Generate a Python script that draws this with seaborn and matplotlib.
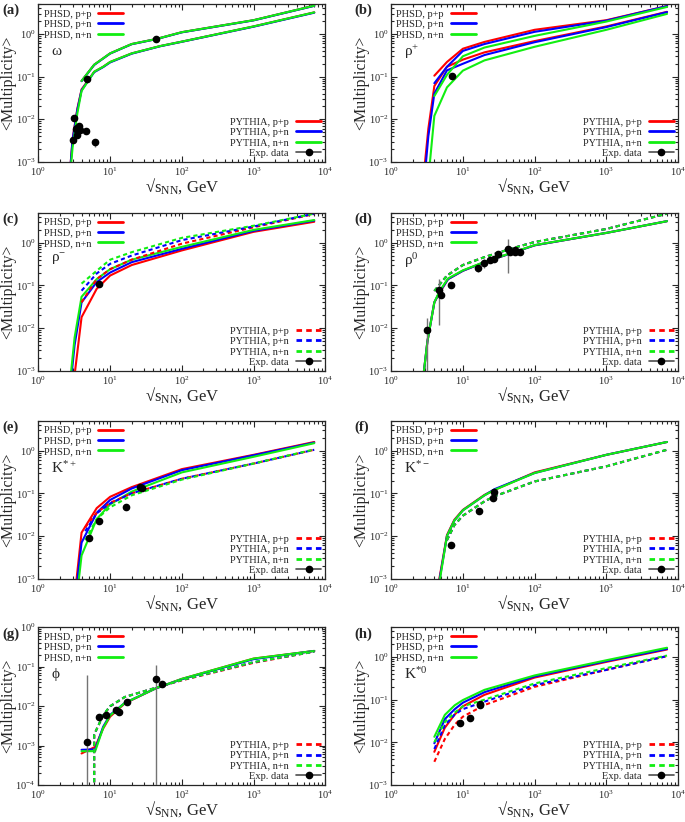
import numpy as np
import seaborn as sns
import matplotlib.pyplot as plt
from matplotlib.lines import Line2D
from matplotlib.ticker import LogLocator, NullFormatter

sns.set_style('ticks')
plt.rcParams['font.family'] = ['Liberation Serif', 'DejaVu Serif']
plt.rcParams['mathtext.fontset'] = 'custom'
plt.rcParams['mathtext.rm'] = 'Liberation Serif'
plt.rcParams['mathtext.it'] = 'Liberation Serif:italic'
plt.rcParams['mathtext.bf'] = 'Liberation Serif:bold'

RED, BLUE, GREEN = '#ff0000', '#0000ff', '#11ee11'

# ---- (a) omega ----
omega_phsd_x = [2.8, 3.0, 3.5, 4, 6, 8, 10, 20, 50, 100, 1000, 7000]
omega_phsd_pp = [0.0008, 0.0035, 0.018, 0.05, 0.13, 0.17, 0.22, 0.35, 0.52, 0.66, 1.5, 3.2]
omega_phsd_pn = [0.0008, 0.0033, 0.017, 0.048, 0.127, 0.167, 0.215, 0.345, 0.515, 0.655, 1.48, 3.15]
omega_phsd_nn = [0.0006, 0.0022, 0.014, 0.046, 0.13, 0.17, 0.22, 0.35, 0.52, 0.66, 1.5, 3.2]
omega_py_x = [4, 6, 10, 20, 44, 100, 1000, 7000]
omega_py_pp = [0.079, 0.19, 0.35, 0.58, 0.76, 1.1, 2.1, 4.6]
omega_py_pn = [0.078, 0.188, 0.347, 0.575, 0.755, 1.09, 2.08, 4.55]
omega_py_nn = [0.079, 0.19, 0.35, 0.58, 0.76, 1.1, 2.1, 4.6]
omega_exp_x = [3.08, 3.14, 3.35, 3.43, 3.5, 3.6, 3.73, 3.8, 4.57, 6.2, 4.7, 43.4]
omega_exp_y = [0.0032, 0.011, 0.0058, 0.0063, 0.0043, 0.0060, 0.0068, 0.0055, 0.0053, 0.0029, 0.088, 0.75]
omega_exp_err = [0.0003, 0.001, 0.0006, 0.0006, 0.0004, 0.0006, 0.0007, 0.0005, 0.0008, 0.0006, 0.008, 0.05]

# ---- (b) rho+ ----
rhop_phsd_x = [2.95, 3.3, 4, 6, 10, 20, 100, 1000, 7000]
rhop_phsd_pp = [0.0009, 0.006, 0.06, 0.17, 0.25, 0.37, 0.68, 1.5, 3.3]
rhop_phsd_pn = [0.0005, 0.004, 0.04, 0.14, 0.2, 0.32, 0.64, 1.45, 3.25]
rhop_phsd_nn = [0.0001, 0.0004, 0.012, 0.056, 0.138, 0.24, 0.5, 1.25, 2.95]
rhop_py_x = [4, 6, 10, 20, 100, 1000, 7000]
rhop_py_pp = [0.105, 0.22, 0.45, 0.65, 1.25, 2.1, 4.5]
rhop_py_pn = [0.07, 0.17, 0.4, 0.58, 1.12, 2.05, 4.5]
rhop_py_nn = [0.035, 0.11, 0.3, 0.48, 0.9, 1.95, 4.3]
rhop_exp_x = [7.0]
rhop_exp_y = [0.104]
rhop_exp_err = [0.015]

# ---- (c) rho- ----
rhom_phsd_x = [2.85, 3.2, 4, 6.5, 10, 20, 100, 1000, 7000]
rhom_phsd_pp = [0.0001, 0.0008, 0.018, 0.083, 0.17, 0.3, 0.66, 1.8, 3.1]
rhom_phsd_pn = [0.0006, 0.004, 0.04, 0.12, 0.2, 0.35, 0.72, 1.9, 3.3]
rhom_phsd_nn = [0.0009, 0.006, 0.054, 0.14, 0.24, 0.4, 0.8, 2.0, 3.4]
rhom_py_x = [4, 6.5, 10, 20, 100, 1000, 7000]
rhom_py_pp = [0.04, 0.14, 0.24, 0.4, 0.95, 2.3, 4.7]
rhom_py_pn = [0.075, 0.19, 0.32, 0.5, 1.15, 2.4, 4.8]
rhom_py_nn = [0.11, 0.22, 0.4, 0.6, 1.3, 2.5, 4.8]
rhom_exp_x = [6.9]
rhom_exp_y = [0.11]
rhom_exp_err = [0.02]

# ---- (d) rho0 ----
rho0_phsd_x = [2.8, 3.2, 4, 4.7, 6.2, 10, 20, 100, 1000, 7000]
rho0_phsd_pp = [0.0007, 0.0048, 0.04, 0.065, 0.14, 0.22, 0.35, 0.87, 1.7, 3.2]
rho0_phsd_pn = [0.0007, 0.0048, 0.04, 0.068, 0.14, 0.22, 0.35, 0.87, 1.7, 3.2]
rho0_phsd_nn = [0.0007, 0.0048, 0.04, 0.072, 0.145, 0.225, 0.355, 0.88, 1.7, 3.2]
rho0_py_x = [4, 6, 10, 20, 50, 100, 1000, 7000]
rho0_py_pp = [0.074, 0.17, 0.3, 0.46, 0.75, 1.04, 2.1, 4.8]
rho0_py_pn = [0.074, 0.17, 0.3, 0.46, 0.75, 1.04, 2.1, 4.8]
rho0_py_nn = [0.074, 0.17, 0.3, 0.46, 0.75, 1.04, 2.1, 4.8]
rho0_exp_x = [3.18, 4.7, 5.0, 6.9, 16.5, 19.6, 23.8, 27.5, 30.7, 43, 45, 52.8, 53.5, 63]
rho0_exp_y = [0.009, 0.077, 0.06, 0.1, 0.25, 0.34, 0.39, 0.41, 0.55, 0.72, 0.6, 0.69, 0.6, 0.59]
rho0_exp_err = [0.008, 0.065, 0.006, 0.01, 0.04, 0.08, 0.03, 0.05, 0.04, 0.53, 0.05, 0.06, 0.05, 0.04]

# ---- (e) K*+ ----
kp_phsd_x = [3.3, 4, 6.5, 10, 20, 100, 1000, 7000]
kp_phsd_pp = [0.0006, 0.012, 0.045, 0.083, 0.14, 0.37, 0.8, 1.6]
kp_phsd_pn = [0.0004, 0.007, 0.035, 0.07, 0.13, 0.35, 0.78, 1.55]
kp_phsd_nn = [0.0002, 0.0035, 0.025, 0.055, 0.11, 0.31, 0.72, 1.5]
kp_py_x = [4.5, 6.5, 10, 20, 100, 1000, 7000]
kp_py_pp = [0.016, 0.035, 0.06, 0.1, 0.22, 0.5, 1.05]
kp_py_pn = [0.013, 0.034, 0.058, 0.1, 0.22, 0.5, 1.05]
kp_py_nn = [0.008, 0.025, 0.047, 0.09, 0.21, 0.5, 1.07]
kp_exp_x = [5.0, 6.9, 16.7, 26, 27.6]
kp_exp_y = [0.009, 0.022, 0.047, 0.14, 0.13]
kp_exp_err = [0.001, 0.002, 0.006, 0.015, 0.015]

# ---- (f) K*- ----
km_phsd_x = [4.7, 6.0, 7.6, 10, 20, 27.5, 100, 1000, 7000]
km_phsd_pp = [0.001, 0.0105, 0.024, 0.041, 0.092, 0.12, 0.31, 0.8, 1.6]
km_phsd_pn = [0.0009, 0.01, 0.023, 0.04, 0.09, 0.125, 0.3, 0.8, 1.6]
km_phsd_nn = [0.0008, 0.01, 0.023, 0.04, 0.09, 0.12, 0.3, 0.8, 1.6]
km_py_x = [6.0, 7.6, 10, 20, 27.5, 100, 1000, 7000]
km_py_pp = [0.008, 0.018, 0.03, 0.065, 0.085, 0.19, 0.43, 1.05]
km_py_pn = [0.008, 0.018, 0.03, 0.065, 0.085, 0.19, 0.43, 1.05]
km_py_nn = [0.008, 0.018, 0.03, 0.065, 0.085, 0.19, 0.43, 1.05]
km_exp_x = [6.9, 16.7, 26.3, 27.5]
km_exp_y = [0.0063, 0.038, 0.079, 0.11]
km_exp_err = [0.001, 0.005, 0.01, 0.015]

# ---- (g) phi ----
phi_phsd_x = [4, 6.2, 8, 10, 16, 43, 100, 1000, 7000]
phi_phsd_pp = [0.00063, 0.00093, 0.0027, 0.0054, 0.0117, 0.028, 0.049, 0.16, 0.25]
phi_phsd_pn = [0.00078, 0.0008, 0.003, 0.006, 0.012, 0.028, 0.048, 0.155, 0.25]
phi_phsd_nn = [0.00072, 0.00072, 0.0028, 0.0058, 0.012, 0.028, 0.049, 0.16, 0.25]
phi_py_x = [6.0, 6.0, 8, 10, 16, 43, 100, 1000, 7000]
phi_py_pp = [5e-5, 0.0019, 0.0058, 0.0098, 0.017, 0.029, 0.045, 0.125, 0.24]
phi_py_pn = [5e-5, 0.0019, 0.0059, 0.0099, 0.017, 0.029, 0.046, 0.13, 0.24]
phi_py_nn = [5e-5, 0.0019, 0.0059, 0.01, 0.017, 0.029, 0.046, 0.13, 0.24]
phi_exp_x = [4.7, 6.9, 8.8, 12.1, 13.4, 17.1, 43.4, 52.6]
phi_exp_y = [0.0012, 0.0052, 0.0059, 0.0079, 0.0072, 0.013, 0.05, 0.036]
phi_exp_lo = [0.00119, 0.0008, 0.0006, 0.0008, 0.0007, 0.0012, 0.0499, 0.006]
phi_exp_hi = [0.06, 0.0008, 0.0006, 0.0008, 0.0007, 0.0012, 0.06, 0.006]

# ---- (h) K*0 ----
k0_phsd_x = [4, 5.6, 7.7, 10, 20, 100, 1000, 7000]
k0_phsd_pp = [0.006, 0.022, 0.045, 0.07, 0.13, 0.33, 0.77, 1.5]
k0_phsd_pn = [0.0095, 0.035, 0.06, 0.085, 0.15, 0.35, 0.8, 1.55]
k0_phsd_nn = [0.0135, 0.044, 0.074, 0.098, 0.17, 0.37, 0.84, 1.65]
k0_py_x = [4, 5.6, 7.7, 10, 20, 100, 1000, 7000]
k0_py_pp = [0.0035, 0.012, 0.026, 0.04, 0.075, 0.2, 0.5, 1.05]
k0_py_pn = [0.007, 0.025, 0.045, 0.06, 0.09, 0.22, 0.5, 1.05]
k0_py_nn = [0.01, 0.03, 0.05, 0.07, 0.1, 0.24, 0.55, 1.08]
k0_exp_x = [9.0, 12.6, 17.3, 17.3]
k0_exp_y = [0.028, 0.037, 0.076, 0.08]
k0_exp_err = [0.003, 0.004, 0.008, 0.008]

panels = [
    ('(a)', 'ω', omega_phsd_x, [omega_phsd_pp, omega_phsd_pn, omega_phsd_nn],
     omega_py_x, [omega_py_pp, omega_py_pn, omega_py_nn],
     omega_exp_x, omega_exp_y, omega_exp_err, False, 1e-3, 5),
    ('(b)', 'ρ$^{+}$', rhop_phsd_x, [rhop_phsd_pp, rhop_phsd_pn, rhop_phsd_nn],
     rhop_py_x, [rhop_py_pp, rhop_py_pn, rhop_py_nn],
     rhop_exp_x, rhop_exp_y, rhop_exp_err, False, 1e-3, 5),
    ('(c)', 'ρ$^{-}$', rhom_phsd_x, [rhom_phsd_pp, rhom_phsd_pn, rhom_phsd_nn],
     rhom_py_x, [rhom_py_pp, rhom_py_pn, rhom_py_nn],
     rhom_exp_x, rhom_exp_y, rhom_exp_err, True, 1e-3, 5),
    ('(d)', 'ρ$^{0}$', rho0_phsd_x, [rho0_phsd_pp, rho0_phsd_pn, rho0_phsd_nn],
     rho0_py_x, [rho0_py_pp, rho0_py_pn, rho0_py_nn],
     rho0_exp_x, rho0_exp_y, rho0_exp_err, True, 1e-3, 5),
    ('(e)', 'K$^{*+}$', kp_phsd_x, [kp_phsd_pp, kp_phsd_pn, kp_phsd_nn],
     kp_py_x, [kp_py_pp, kp_py_pn, kp_py_nn],
     kp_exp_x, kp_exp_y, kp_exp_err, True, 1e-3, 5),
    ('(f)', 'K$^{*-}$', km_phsd_x, [km_phsd_pp, km_phsd_pn, km_phsd_nn],
     km_py_x, [km_py_pp, km_py_pn, km_py_nn],
     km_exp_x, km_exp_y, km_exp_err, True, 1e-3, 5),
    ('(g)', 'ϕ', phi_phsd_x, [phi_phsd_pp, phi_phsd_pn, phi_phsd_nn],
     phi_py_x, [phi_py_pp, phi_py_pn, phi_py_nn],
     phi_exp_x, phi_exp_y, [phi_exp_lo, phi_exp_hi], True, 1e-4, 1),
    ('(h)', 'K$^{*0}$', k0_phsd_x, [k0_phsd_pp, k0_phsd_pn, k0_phsd_nn],
     k0_py_x, [k0_py_pp, k0_py_pn, k0_py_nn],
     k0_exp_x, k0_exp_y, k0_exp_err, True, 1e-3, 5),
]

colors = [RED, BLUE, GREEN]
dash = (0, (2.0, 1.5))
col_left = [0.056, 0.571]
row_bottom = [0.803, 0.549, 0.296, 0.045]
W, H = 0.419, 0.192

fig = plt.figure(figsize=(6.85, 8.22), dpi=100)

for i, (tag, name, px, pys, qx, qys, ex, ey, eerr, dashed, ylo, yhi) in enumerate(panels):
    ax = fig.add_axes([col_left[i % 2], row_bottom[i // 2], W, H])
    ax.set_xscale('log')
    ax.set_yscale('log')
    py_style = dash if dashed else '-'

    for y, c in zip(pys, colors):
        sns.lineplot(x=px, y=y, ax=ax, color=c, linewidth=1.5,
                     estimator=None, sort=False)
    for y, c in zip(qys, colors):
        sns.lineplot(x=qx, y=y, ax=ax, color=c, linewidth=1.5,
                     linestyle=py_style, estimator=None, sort=False)

    ax.errorbar(ex, ey, yerr=eerr, fmt='o', color='black', ecolor='0.45',
                ms=4.5, elinewidth=1, capsize=0, zorder=5)

    ax.set_xlim(1, 1e4)
    ax.set_ylim(ylo, yhi)
    ax.xaxis.set_major_locator(LogLocator(base=10, numticks=10))
    ax.xaxis.set_minor_locator(LogLocator(base=10, subs=np.arange(2, 10) * 1.0, numticks=50))
    ax.yaxis.set_major_locator(LogLocator(base=10, numticks=10))
    ax.yaxis.set_minor_locator(LogLocator(base=10, subs=np.arange(2, 10) * 1.0, numticks=50))
    ax.xaxis.set_minor_formatter(NullFormatter())
    ax.yaxis.set_minor_formatter(NullFormatter())
    ax.tick_params(which='both', direction='in', top=True, right=True,
                   width=0.8, labelsize=7.5)
    ax.tick_params(axis='x', which='major', pad=2.5)
    ax.tick_params(axis='y', which='major', pad=2)
    ax.tick_params(which='major', length=4)
    ax.tick_params(which='minor', length=2)
    for s in ax.spines.values():
        s.set_linewidth(0.9)

    ax.set_xlabel('√s$_{\\rm NN}$, GeV', fontsize=12, labelpad=-1)
    ax.set_ylabel('<Multiplicity>', fontsize=11.5)
    ax.yaxis.set_label_coords(-0.077, 0.5)
    ax.text(0.045, 0.70, name, transform=ax.transAxes, fontsize=11, va='center')

    h1 = [Line2D([], [], color=c, lw=2) for c in colors]
    leg1 = ax.legend(h1, ['PHSD, p+p', 'PHSD, p+n', 'PHSD, n+n'], loc='upper left',
                     markerfirst=False, frameon=False, fontsize=7.5, handlelength=2.4,
                     handletextpad=0.7, labelspacing=0.1, borderaxespad=0.3, borderpad=0.2)
    ax.add_artist(leg1)
    h2 = [Line2D([], [], color=c, lw=2, linestyle=py_style) for c in colors]
    h2.append(Line2D([], [], color='0.3', lw=1.2, marker='o', mfc='black', mec='black', ms=4.5))
    ax.legend(h2, ['PYTHIA, p+p', 'PYTHIA, p+n', 'PYTHIA, n+n', 'Exp. data'],
              loc='lower right', markerfirst=False, frameon=False, fontsize=7.5,
              handlelength=2.4, handletextpad=0.7, labelspacing=0.1,
              borderaxespad=0.2, borderpad=0.2)

    pos = ax.get_position()
    fig.text(pos.x0 - 0.053, pos.y1 - 0.008, tag, fontsize=10.5, fontweight='bold', va='center')

fig.savefig('out.png', dpi=100)
